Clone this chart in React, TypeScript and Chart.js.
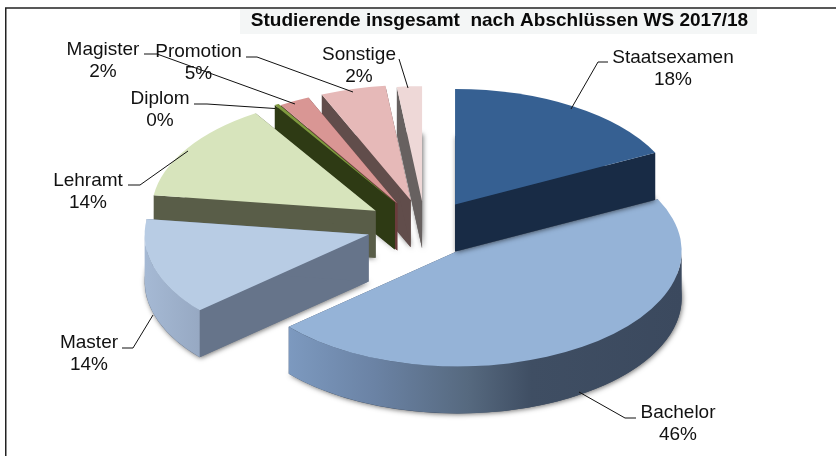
import React, { useEffect, useRef } from "react";
import { Chart, registerables } from "chart.js";

Chart.register(...registerables);

const categories = ["Staatsexamen", "Bachelor", "Master", "Lehramt", "Diplom", "Magister", "Promotion", "Sonstige"];
const shares = [17.6, 46.0, 13.55, 13.85, 0.3, 2.2, 4.7, 1.8];
const titleText = "Studierende insgesamt  nach Abschlüssen WS 2017/18";

const topColors = ["#366092", "#95b3d7", "#b8cce4", "#d7e4bc", "#7f9a3f", "#d99694", "#e6b9b8", "#eed8d7"];
const wallColors = ["#182b45", "#3c4a5f", "#66748a", "#595d48", "#2e3a14", "#6a3c3c", "#614d4b", "#676160"];

const FONT = '"Liberation Sans", Arial, sans-serif';
const RADIUS = 224;
const TILT = 0.515;
const DEPTH = 47;
const EXPLODE = 0.23;
const CENTER = { x: 424, y: 226 };
const drawOrder = [7, 6, 5, 4, 3, 2, 1, 0];
const nudges = [[4, 1], [5, 3], [-6, 1], [-5, -1], [-2, -1], [-3, 1], [0, 0], [1, 2]];

// label centre x, first baseline, leader polyline
const labelLayout: { x: number; y: number; line: number[][] }[] = [
  { x: 673, y: 63, line: [[608, 62], [598, 62], [571, 109]] },
  { x: 678, y: 418, line: [[636, 418], [625, 418], [579, 392]] },
  { x: 89, y: 348, line: [[122, 348], [133, 348], [153, 315]] },
  { x: 88, y: 186, line: [[128, 185], [140, 185], [188, 151]] },
  { x: 160, y: 104, line: [[194, 104], [207, 104], [275, 108.5]] },
  { x: 103, y: 55, line: [[144, 54], [157, 54], [295, 104]] },
  { x: 198.5, y: 57, line: [[246, 57], [257, 57], [353, 92]] },
  { x: 359, y: 60, line: [[399, 59], [408, 88]] },
];

const scene3d = {
  id: "scene3d",
  beforeDraw(chart: any) {
    const { ctx } = chart;
    ctx.save();
    ctx.fillStyle = "#ffffff";
    ctx.fillRect(0, 0, 836, 456);
    ctx.fillStyle = "#f4f6f6";
    ctx.fillRect(240, 9, 517, 25);
    ctx.strokeStyle = "#222222";
    ctx.lineWidth = 1.5;
    ctx.beginPath();
    ctx.moveTo(5.75, 456);
    ctx.lineTo(5.75, 8);
    ctx.lineTo(836, 8);
    ctx.stroke();
    ctx.restore();
  },
  beforeDatasetsDraw(chart: any) {
    const { ctx } = chart;
    const arcs = chart.getDatasetMeta(0).data;
    const total = shares.reduce((a, b) => a + b, 0);

    drawOrder.forEach((i) => {
      const el = arcs[i];
      const { x, y, startAngle: s, endAngle: e, outerRadius: R } = el.getProps(["x", "y", "startAngle", "endAngle", "outerRadius"], true);
      const mid = (s + e) / 2;
      const ax = CENTER.x + Math.cos(mid) * R * EXPLODE + nudges[i][0];
      const ay = CENTER.y + Math.sin(mid) * R * EXPLODE * TILT + nudges[i][1];
      const px = (a: number) => ax + R * Math.cos(a);
      const py = (a: number) => ay + R * TILT * Math.sin(a);

      // soft shadow of the base
      ctx.save();
      ctx.shadowColor = "rgba(0,0,0,0.55)";
      ctx.shadowBlur = 5;
      ctx.shadowOffsetX = 1;
      ctx.shadowOffsetY = 1;
      ctx.fillStyle = wallColors[i];
      ctx.beginPath();
      ctx.moveTo(ax, ay + DEPTH);
      ctx.ellipse(ax, ay + DEPTH, R, R * TILT, 0, s, e);
      ctx.closePath();
      ctx.fill();
      ctx.restore();

      // radial walls
      ctx.fillStyle = wallColors[i];
      [s, e].forEach((a) => {
        ctx.beginPath();
        ctx.moveTo(ax, ay);
        ctx.lineTo(px(a), py(a));
        ctx.lineTo(px(a), py(a) + DEPTH);
        ctx.lineTo(ax, ay + DEPTH);
        ctx.closePath();
        ctx.fill();
      });

      // outer wall, where the rim faces the viewer
      const a0 = Math.max(s, 0);
      const a1 = Math.min(e, Math.PI);
      if (a1 > a0) {
        let fill: any = wallColors[i];
        if (i === 1) {
          const g = ctx.createLinearGradient(286, 0, 682, 0);
          g.addColorStop(0, "#7d9ac0");
          g.addColorStop(0.22, "#6b83a5");
          g.addColorStop(0.46, "#56697f");
          g.addColorStop(0.62, "#3f4e63");
          g.addColorStop(1, "#3b495e");
          fill = g;
        } else if (i === 2) {
          const g = ctx.createLinearGradient(145, 0, 199, 0);
          g.addColorStop(0, "#a5b9d4");
          g.addColorStop(1, "#97a9c3");
          fill = g;
        }
        ctx.fillStyle = fill;
        ctx.beginPath();
        ctx.ellipse(ax, ay, R, R * TILT, 0, a0, a1);
        ctx.lineTo(px(a1), py(a1) + DEPTH);
        ctx.ellipse(ax, ay + DEPTH, R, R * TILT, 0, a1, a0, true);
        ctx.closePath();
        ctx.fill();
      }

      // top face: the library's own arc element, seen through the tilt
      ctx.save();
      ctx.translate(ax, ay);
      ctx.scale(1, TILT);
      ctx.translate(-x, -y);
      el.draw(ctx);
      ctx.restore();
    });

    // leader lines and labels
    ctx.save();
    ctx.strokeStyle = "#111111";
    ctx.lineWidth = 1;
    ctx.fillStyle = "#111111";
    ctx.font = `19px ${FONT}`;
    ctx.textAlign = "center";
    ctx.textBaseline = "alphabetic";
    categories.forEach((name, i) => {
      const lay = labelLayout[i];
      ctx.beginPath();
      lay.line.forEach(([lx, ly], k) => (k ? ctx.lineTo(lx, ly) : ctx.moveTo(lx, ly)));
      ctx.stroke();
      ctx.fillText(name, lay.x, lay.y);
      ctx.fillText(`${Math.round((shares[i] / total) * 100)}%`, lay.x, lay.y + 22);
    });
    ctx.restore();
    return false;
  },
};

export default function App() {
  const ref = useRef<HTMLCanvasElement>(null);
  useEffect(() => {
    const chart = new Chart(ref.current as HTMLCanvasElement, {
      type: "pie",
      data: {
        labels: categories,
        datasets: [{ data: shares, backgroundColor: topColors, borderWidth: 0, radius: RADIUS }],
      },
      options: {
        animation: false,
        responsive: false,
        layout: { padding: { left: 163, top: 9 } },
        plugins: {
          legend: { display: false },
          tooltip: { enabled: false },
          title: {
            display: true,
            text: titleText,
            color: "#0a0a0a",
            font: { family: FONT, size: 19, weight: "bold" },
            padding: { top: 0, bottom: 4 },
          },
        },
      },
      plugins: [scene3d],
    } as any);
    return () => chart.destroy();
  }, []);
  return (
    <div style={{ position: "fixed", left: 0, top: 0 }}>
      <canvas ref={ref} width={836} height={456} style={{ display: "block" }} />
    </div>
  );
}
